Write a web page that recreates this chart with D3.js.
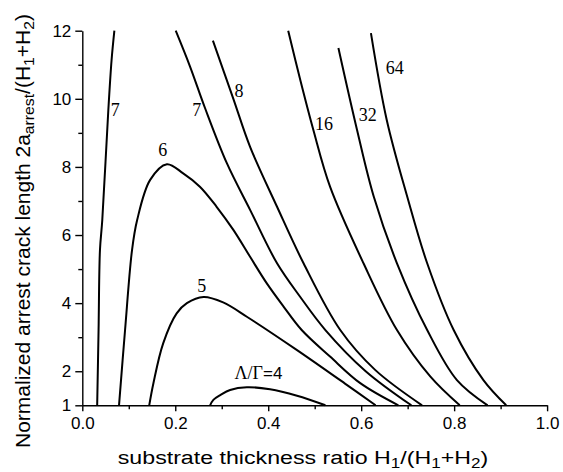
<!DOCTYPE html>
<html lang="en">
<head>
<meta charset="UTF-8">
<title>Arrest crack length</title>
<style>
  * { margin: 0; padding: 0; }
  body { background: #fff; }
  .axis text { font-family: Arial, "Liberation Sans", sans-serif; font-size: 17px; fill: #000; }
  .axis path, .axis line { stroke: #000; stroke-width: 1.4px; }
  .curve { fill: none; stroke: #000; stroke-width: 2px; }
  .clabel { font-family: "Times New Roman", "Liberation Serif", serif; font-size: 18px; fill: #000; }
  .title { font-family: Arial, "Liberation Sans", sans-serif; font-size: 19px; fill: #000; }
</style>
</head>
<body>
<div id="chart"></div>
<script src="https://cdn.jsdelivr.net/npm/d3@7"></script>
<script>
const MARGIN = {LEFT: 82.3, TOP: 30.7, RIGHT: 15.9, BOTTOM: 66.7}
const WIDTH = 563 - MARGIN.LEFT - MARGIN.RIGHT
const HEIGHT = 472 - MARGIN.TOP - MARGIN.BOTTOM

// curves: [H1/(H1+H2), 2a/(H1+H2)]
const curve4 = [[0.275, 1.0], [0.282, 1.16], [0.297, 1.30], [0.318, 1.45], [0.354, 1.53],
  [0.404, 1.47], [0.462, 1.28], [0.523, 1.0]]
const curve5 = [[0.144, 1.0], [0.153, 1.65], [0.174, 2.82], [0.203, 3.70], [0.225, 4.00],
  [0.261, 4.18], [0.303, 4.02], [0.354, 3.60], [0.462, 2.62], [0.569, 1.60], [0.631, 1.0]]
const curve6 = [[0.079, 1.0], [0.092, 3.21], [0.107, 5.56], [0.118, 6.44], [0.146, 7.62],
  [0.182, 8.08], [0.217, 7.81], [0.253, 7.42], [0.289, 6.83], [0.325, 6.15], [0.361, 5.36],
  [0.397, 4.58], [0.433, 3.90], [0.472, 3.21], [0.533, 2.43], [0.598, 1.65], [0.680, 1.0]]
const curve7a = [[0.032, 1.0], [0.035, 3.21], [0.038, 5.56], [0.043, 6.44], [0.056, 9.67],
  [0.063, 11.14], [0.069, 12.0]]
const curve7b = [[0.201, 12.0], [0.232, 10.94], [0.264, 9.73], [0.311, 8.11], [0.361, 6.74],
  [0.419, 5.17], [0.469, 4.18], [0.523, 3.21], [0.609, 2.01], [0.708, 1.0]]
const curve8 = [[0.281, 11.71], [0.325, 10.00], [0.361, 8.59], [0.419, 6.83], [0.476, 5.17],
  [0.555, 3.21], [0.630, 2.04], [0.731, 1.0]]
const curve16 = [[0.443, 12.0], [0.469, 10.55], [0.497, 9.09], [0.533, 7.42],
  [0.605, 5.17], [0.677, 3.21], [0.749, 1.84], [0.812, 1.0]]
const curve32 = [[0.551, 11.49], [0.591, 9.09], [0.627, 7.13], [0.677, 5.17],
  [0.742, 3.21], [0.806, 1.74], [0.872, 1.0]]
const curve64 = [[0.621, 11.93], [0.655, 9.38], [0.699, 7.13], [0.742, 5.17],
  [0.799, 3.21], [0.863, 1.74], [0.912, 1.0]]

const curves = [curve4, curve5, curve6, curve7a, curve7b, curve8, curve16, curve32, curve64]

// curve labels: text, x, y (data units)
const labelText = ['7', '7', '8', '6', '5', '16', '32', '64']
const labelX = [0.071, 0.246, 0.337, 0.173, 0.257, 0.520, 0.614, 0.672]
const labelY = [9.68, 9.68, 10.23, 8.50, 4.50, 9.28, 9.53, 10.91]

const xTicks = [0, 0.2, 0.4, 0.6, 0.8, 1.0]
const xMinor = [0.1, 0.3, 0.5, 0.7, 0.9]
const yTicks = [1, 2, 4, 6, 8, 10, 12]
const yMinor = [3, 5, 7, 9, 11]

const svg = d3.select('#chart').append('svg')
  .attr('width', 563)
  .attr('height', 472)

const g = svg.append('g').attr('transform', `translate(${MARGIN.LEFT}, ${MARGIN.TOP})`)

const x = d3.scaleLinear().domain([0, 1]).range([0, WIDTH])
const y = d3.scaleLinear().domain([1, 12]).range([HEIGHT, 0])

// minor ticks first, then major axis on top
g.append('g').attr('class', 'axis')
  .attr('transform', `translate(0, ${HEIGHT})`)
  .call(d3.axisBottom(x).tickValues(xMinor).tickSize(4).tickFormat(''))
  .call(a => a.select('.domain').remove())
g.append('g').attr('class', 'axis')
  .attr('transform', `translate(0, ${HEIGHT})`)
  .call(d3.axisBottom(x).tickValues(xTicks).tickSize(6).tickSizeOuter(0).tickPadding(6)
    .tickFormat(d3.format('.1f')))

g.append('g').attr('class', 'axis')
  .call(d3.axisLeft(y).tickValues(yMinor).tickSize(4).tickFormat(''))
  .call(a => a.select('.domain').remove())
g.append('g').attr('class', 'axis')
  .call(d3.axisLeft(y).tickValues(yTicks).tickSize(7).tickSizeOuter(0).tickPadding(4)
    .tickFormat(d3.format('d')))

const line = d3.line()
  .x(d => x(d[0]))
  .y(d => y(d[1]))
  .curve(d3.curveCatmullRom.alpha(0.5))

g.selectAll('.curve').data(curves)
  .join('path')
  .attr('class', 'curve')
  .attr('d', line)

g.selectAll('.clabel').data(labelText)
  .join('text')
  .attr('class', 'clabel')
  .attr('x', (d, i) => x(labelX[i]))
  .attr('y', (d, i) => y(labelY[i]))
  .attr('dy', '0.35em')
  .attr('text-anchor', 'middle')
  .text(d => d)

// Λ/Γ=4 label
const lg = g.append('text')
  .attr('x', x(0.379))
  .attr('y', y(1.94))
  .attr('dy', '0.35em')
  .attr('text-anchor', 'middle')
lg.append('tspan').attr('class', 'clabel').text('Λ/Γ')
lg.append('tspan').attr('class', 'title').style('font-size', '17px').text('=4')

// x axis title (the original is a bit wider than plain Arial)
const xt = svg.append('text')
  .attr('class', 'title')
  .attr('transform', 'translate(303, 464) scale(1.22, 1)')
  .attr('text-anchor', 'middle')
xt.append('tspan').text('substrate thickness ratio H')
xt.append('tspan').attr('dy', 4).style('font-size', '14px').text('1')
xt.append('tspan').attr('dy', -4).text('/(H')
xt.append('tspan').attr('dy', 4).style('font-size', '14px').text('1')
xt.append('tspan').attr('dy', -4).text('+H')
xt.append('tspan').attr('dy', 4).style('font-size', '14px').text('2')
xt.append('tspan').attr('dy', -4).text(')')

// y axis title
const yt = svg.append('text')
  .attr('class', 'title')
  .style('font-size', '20px')
  .attr('transform', 'translate(30, 231) rotate(-90) scale(1.05, 1)')
  .attr('text-anchor', 'middle')
yt.append('tspan').text('Normalized arrest crack length 2a')
yt.append('tspan').attr('dy', 4).style('font-size', '15px').text('arrest')
yt.append('tspan').attr('dy', -4).text('/(H')
yt.append('tspan').attr('dy', 4).style('font-size', '15px').text('1')
yt.append('tspan').attr('dy', -4).text('+H')
yt.append('tspan').attr('dy', 4).style('font-size', '15px').text('2')
yt.append('tspan').attr('dy', -4).text(')')
</script>
</body>
</html>
